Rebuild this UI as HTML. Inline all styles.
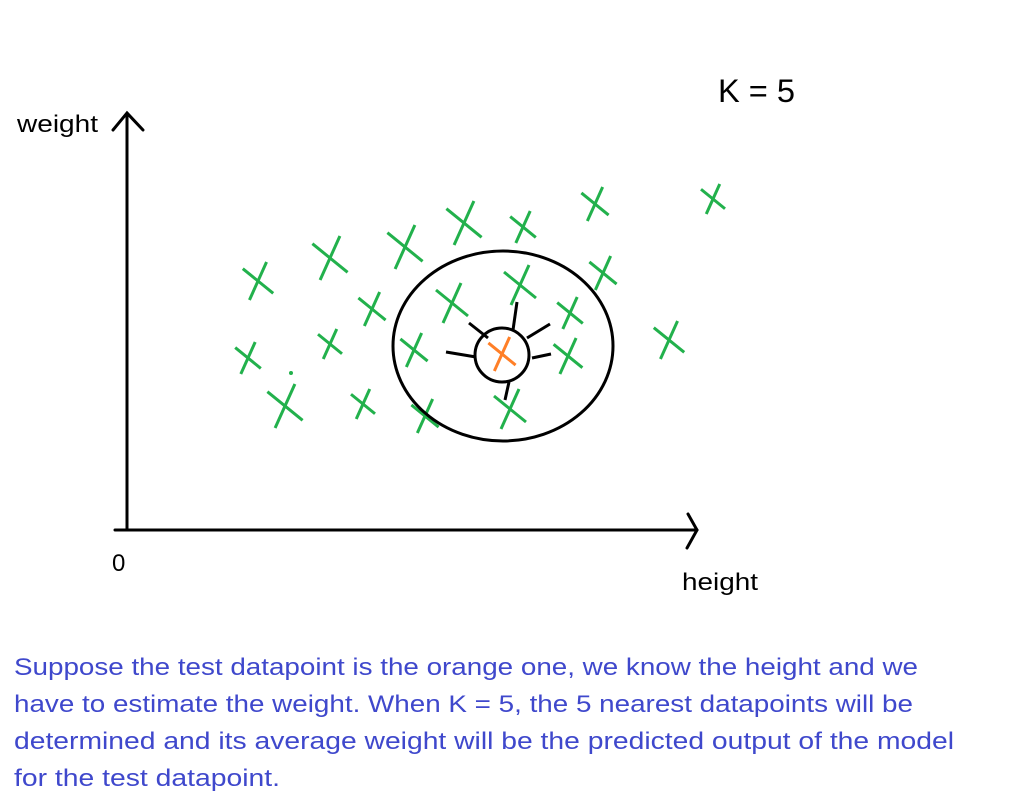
<!DOCTYPE html>
<html><head><meta charset="utf-8"><style>
html,body{margin:0;padding:0;background:#fff;width:1009px;height:808px;overflow:hidden}
svg{display:block}
text{font-family:"Liberation Sans",sans-serif}
</style></head><body>
<svg id="chart" width="1009" height="808" viewBox="0 0 1009 808">
  <g stroke="#000" stroke-width="3" fill="none" stroke-linecap="round">
    <line x1="127" y1="115" x2="127" y2="530"/>
    <polyline points="113,130 127,113 143,130"/>
    <line x1="115" y1="530" x2="697" y2="530"/>
    <polyline points="688,514 697,530 687,548"/>
  </g>
  <text x="17" y="132" font-size="24" textLength="81" lengthAdjust="spacingAndGlyphs">weight</text>
  <text x="112" y="571" font-size="24">0</text>
  <text x="682" y="590" font-size="24" textLength="76" lengthAdjust="spacingAndGlyphs">height</text>
  <text x="718" y="102" font-size="32" textLength="77" lengthAdjust="spacingAndGlyphs">K = 5</text>
  <g id="points"></g>
  <g stroke="#000" stroke-width="3" fill="none">
    <ellipse cx="503" cy="346" rx="110" ry="95"/>
    <circle cx="502" cy="355" r="27"/>
    <line x1="517" y1="302" x2="513" y2="330"/>
    <line x1="469" y1="323" x2="488" y2="338"/>
    <line x1="446" y1="352" x2="476" y2="357"/>
    <line x1="550" y1="324" x2="527" y2="338"/>
    <line x1="551" y1="354" x2="532" y2="358"/>
    <line x1="509" y1="382" x2="505" y2="400"/>
  </g>
  <circle cx="291" cy="373" r="2" fill="#22b14c"/>
  <g id="testpt"></g>
  <g fill="#3f48cc" font-size="24">
    <text x="14" y="675" textLength="904" lengthAdjust="spacingAndGlyphs">Suppose the test datapoint is the orange one, we know the height and we</text>
    <text x="14" y="712" textLength="899" lengthAdjust="spacingAndGlyphs">have to estimate the weight. When K = 5, the 5 nearest datapoints will be</text>
    <text x="14" y="749" textLength="940" lengthAdjust="spacingAndGlyphs">determined and its average weight will be the predicted output of the model</text>
    <text x="14" y="786" textLength="266" lengthAdjust="spacingAndGlyphs">for the test datapoint.</text>
  </g>
</svg>
<script>
// data in axis units (origin at axis corner)
const heights = [131, 203, 278, 337, 396, 468, 586, 245, 325, 393, 476, 443, 542, 203, 121, 287, 441, 158, 236, 298, 383];
const weights = [249, 272, 283, 307, 303, 326, 331, 221, 227, 245, 257, 217, 190, 186, 172, 180, 174, 124, 126, 114, 121];
const sizes   = [19, 22, 22, 22, 16, 17, 15, 17, 20, 20, 17, 16, 19, 15, 16, 17, 18, 22, 15, 17, 20];
const testHeight = [375];
const testWeight = [176];

const X0 = 127, Y0 = 530;
function xScale(v){ return X0 + v; }
function yScale(v){ return Y0 - v; }
const NS = 'http://www.w3.org/2000/svg';

function drawCross(g, cx, cy, s, color, w){
  const a = document.createElementNS(NS, 'line');
  a.setAttribute('x1', cx + s*0.45); a.setAttribute('y1', cy - s);
  a.setAttribute('x2', cx - s*0.45); a.setAttribute('y2', cy + s);
  const b = document.createElementNS(NS, 'line');
  b.setAttribute('x1', cx - s*0.8); b.setAttribute('y1', cy - s*0.65);
  b.setAttribute('x2', cx + s*0.8); b.setAttribute('y2', cy + s*0.65);
  [a, b].forEach(l => { l.setAttribute('stroke', color); l.setAttribute('stroke-width', w); l.setAttribute('stroke-linecap', 'butt'); });
  const grp = document.createElementNS(NS, 'g');
  grp.appendChild(a); grp.appendChild(b);
  g.appendChild(grp);
  return grp;
}

const pg = document.getElementById('points');
for (let i = 0; i < heights.length; i++){
  const c = drawCross(pg, xScale(heights[i]), yScale(weights[i]), sizes[i], '#22b14c', 3);
  
  
}
const tg = document.getElementById('testpt');
for (let i = 0; i < testHeight.length; i++){
  const c = drawCross(tg, xScale(testHeight[i]), yScale(testWeight[i]), 17, '#ff7f27', 3);
  
  
}
</script>
</body></html>
